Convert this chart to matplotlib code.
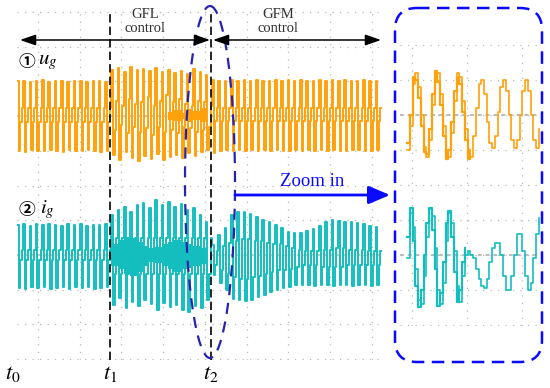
import numpy as np
import matplotlib.pyplot as plt
from matplotlib.patches import Ellipse, FancyBboxPatch

plt.rcParams['mathtext.fontset'] = 'stix'

# ---- main scope screen: per-cycle levels (divisions) ----
# u_g (channel 1, baseline +2 div): before t1 | t1..t2 | after t2
ug_top = ([3.0, 3.02, 2.98, 3.0, 3.03, 2.99, 3.0, 3.01, 2.98, 3.02, 3.0, 2.99, 3.01, 3.0, 2.98]
          + [3.33, 3.39, 3.27, 3.41, 3.33, 3.36, 3.30, 3.39, 3.27, 3.33, 3.24, 3.30, 3.21, 3.36, 3.27, 3.18]
          + [3.05, 3.0, 3.02, 3.04, 3.0, 3.03, 3.01, 3.04, 3.0, 3.02, 3.04, 3.0, 3.03, 3.01,
             3.04, 3.0, 3.02, 3.04, 3.01, 3.03, 3.0, 3.04, 3.02, 3.0, 3.03, 3.01, 3.02])
ug_bot = ([1.0, 0.98, 1.02, 1.0, 0.99, 1.01, 1.0, 0.98, 1.02, 1.0, 0.99, 1.01, 1.0, 0.98, 1.0]
          + [0.88, 0.73, 0.97, 0.79, 0.71, 0.85, 0.76, 0.91, 0.73, 0.82, 0.88, 0.79, 0.94, 0.85, 0.97, 1.02]
          + [0.95, 1.0, 1.02, 0.99, 1.01, 1.0, 1.02, 0.99, 1.01, 1.0, 1.02, 1.0, 0.99, 1.01,
             1.0, 1.02, 0.99, 1.01, 1.0, 1.02, 0.99, 1.0, 1.01, 1.02, 1.0, 0.99, 1.01])
ug_mid_hi = ([2.22] * 15
             + [2.45, 2.3, 2.5, 2.35, 2.4, 2.55, 2.3, 2.45, 2.6, 2.4, 2.5, 2.35, 2.3, 2.45, 2.4, 2.3]
             + [2.22] * 27)
ug_mid_lo = ([1.83] * 15
             + [1.6, 1.75, 1.5, 1.7, 1.55, 1.65, 1.45, 1.7, 1.55, 1.6, 1.5, 1.7, 1.65, 1.55, 1.6, 1.7]
             + [1.85] * 27)
# messy band of u_g just before t2
ug_band_hi = [np.nan] * 9 + [2.12, 2.18, 2.1, 2.2, 2.15, 2.22, 2.14]
ug_band_lo = [np.nan] * 9 + [1.9, 1.86, 1.92, 1.84, 1.88, 1.82, 1.9]

# i_g (channel 2, baseline -2 div)
ig_top = ([-1.14, -1.10, -1.17, -1.12, -1.15, -1.10, -1.14, -1.18, -1.12, -1.14, -1.10, -1.16, -1.13, -1.15, -1.11]
          + [-0.85, -0.71, -0.62, -0.76, -0.56, -0.50, -0.65, -0.42, -0.56, -0.48, -0.62, -0.53, -0.71, -0.65, -0.85, -1.05]
          + [-1.71, -1.43, -1.22, -0.85, -0.76, -0.76, -0.82, -0.91, -0.99, -1.05, -1.14, -1.22, -1.34, -1.37,
             -1.37, -1.31, -1.25, -1.17, -1.05, -0.99, -1.02, -1.05, -1.05, -1.08, -1.11, -1.17, -1.20])
ig_bot = ([-2.95, -2.98, -2.93, -2.96, -2.92, -2.97, -2.95, -2.93, -2.98, -2.94, -2.96, -2.92, -2.97, -2.95, -2.93]
          + [-3.44, -3.24, -3.53, -3.36, -3.47, -3.30, -3.41, -3.59, -3.39, -3.50, -3.44, -3.59, -3.65, -3.47, -3.53, -3.30]
          + [-2.58, -2.81, -3.01, -3.27, -3.30, -3.33, -3.30, -3.21, -3.16, -3.07, -3.01, -2.95, -2.93, -2.87,
             -2.87, -2.87, -2.90, -2.87, -2.87, -2.90, -2.87, -2.87, -2.90, -2.87, -2.87, -2.90, -2.87])
ig_mid_hi = ([-1.86] * 15
             + [-1.5] * 16
             + [-1.9, -1.75, -1.65, -1.6, -1.55, -1.55, -1.6, -1.6, -1.65, -1.7, -1.7, -1.75, -1.8, -1.85,
                -1.9, -1.9, -1.9, -1.85, -1.85, -1.8, -1.8, -1.85, -1.85, -1.85, -1.9, -1.9, -1.9])
ig_mid_lo = ([-2.15] * 15
             + [-2.55] * 16
             + [-2.3, -2.45, -2.55, -2.65, -2.7, -2.7, -2.65, -2.6, -2.55, -2.5, -2.45, -2.45, -2.4, -2.35,
                -2.3, -2.3, -2.3, -2.35, -2.35, -2.35, -2.35, -2.3, -2.3, -2.3, -2.3, -2.3, -2.3])
ig_band_hi = [-1.68, -1.58, -1.48, -1.52, -1.62, -1.74, -1.8, -1.76, -1.68, -1.62, -1.56, -1.62, -1.68, -1.74, -1.8, -1.86]
ig_band_lo = [-2.32, -2.42, -2.54, -2.6, -2.48, -2.32, -2.2, -2.24, -2.32, -2.42, -2.48, -2.42, -2.38, -2.32, -2.26, -2.16]

t_events = [1.725, 4.14]      # t1, t2 in divisions
x_start, x_end = -0.503, 8.24

# ---- zoomed window: samples every 2.5 ms starting at -4.5 ms ----
ug_zoom = [1.0, 1.7, 2.9, 3.2, 2.8, 2.0, 1.1, 0.8, 1.3, 2.3, 3.1, 3.2, 2.6, 1.7, 0.9, 0.8,
           1.5, 2.4, 3.2, 3.1, 2.4, 1.6, 0.9, 0.8, 1.4, 2.2, 2.9, 3.0, 2.6, 1.8, 1.2, 1.05,
           1.4, 2.1, 2.8, 3.0, 2.7, 2.0, 1.3, 1.05, 1.3, 2.0, 2.7, 3.0, 2.7, 2.0, 1.3, 1.05, 1.6]
ug_zoom_alt = [1.2, 2.0, 3.1, 3.0, 2.5, 1.7, 0.95, 0.9, 1.6, 2.6, 3.25, 2.95, 2.3, 1.4, 0.75, 1.0,
               1.8, 2.7, 3.05, 2.9, 2.1, 1.3, 0.75, 1.0]
ig_zoom = [-2.1, -0.8, -1.2, -2.4, -3.3, -3.4, -2.6, -1.5, -0.7, -0.9, -1.8, -3.0, -3.4, -2.8, -1.6, -0.8,
           -1.1, -1.9, -2.9, -3.35, -2.6, -2.0, -1.9, -2.0, -2.1, -2.4, -2.7, -2.9, -2.95, -2.7, -2.2, -1.8,
           -1.65, -1.65, -2.0, -2.6, -3.0, -3.0, -2.6, -2.0, -1.4, -1.4, -1.9, -2.6, -3.0, -2.8, -2.1, -1.4, -0.95]
ig_zoom_alt = [-1.5, -0.65, -1.6, -2.9, -3.5, -3.0, -2.0, -1.1, -0.65, -1.3, -2.4, -3.45, -3.1, -2.2, -1.1, -0.75,
               -1.5, -2.5, -3.35, -3.0, -2.2, -1.8]
zoom_t0, zoom_dt = -4.5, 2.5

orange = '#FFA10A'
cyan = '#14BEBE'
grid_kw = dict(color='#b8b8b8', linestyle=(0, (1, 5)), linewidth=0.9)


def cycle_trace(top, bot, mid_lo, mid_hi):
    period = (x_end - x_start) / len(top)
    xs, ys = [], []
    for i in range(len(top)):
        for k, v in enumerate([top[i], bot[i], mid_lo[i], mid_hi[i]]):
            xs.append(x_start + i * period + k * period / 4)
            ys.append(v)
    xs.append(x_end)
    ys.append(mid_hi[-1])
    return xs, ys, period


def scope_axes(ax, xt, yt):
    ax.set_xticks(xt)
    ax.set_yticks(yt)
    ax.tick_params(length=0, labelbottom=False, labelleft=False)
    for s in ax.spines.values():
        s.set_visible(False)
    ax.grid(True, **grid_kw)
    ax.set_axisbelow(True)
    ax.patch.set_alpha(0)


fig = plt.figure(figsize=(5.5, 3.88), dpi=100)

# main screen
ax = fig.add_axes([17 / 550, 1 - 360 / 388, 365 / 550, 349 / 388])
ax.set_xlim(x_start, x_end)
ax.set_ylim(-5.03, 5.03)
scope_axes(ax, range(0, 9), range(-5, 6))
for base in (2, -2):
    ax.axhline(base, color='#bcbcbc', linestyle=(0, (2, 2)), lw=1.2, zorder=1)

for top, bot, lo, hi, col in [(ug_top, ug_bot, ug_mid_lo, ug_mid_hi, orange),
                              (ig_top, ig_bot, ig_mid_lo, ig_mid_hi, cyan)]:
    xs, ys, period = cycle_trace(top, bot, lo, hi)
    ax.step(xs, ys, where='post', color=col, lw=1.4, zorder=2)

i1 = 15
xb = [x_start + (i1 + i) * period for i in range(16)]
ax.fill_between(xb, ig_band_lo, ig_band_hi, step='post', color=cyan, lw=0, zorder=2)
ax.fill_between(xb, ug_band_lo, ug_band_hi, step='post', color=orange, lw=0, zorder=2)

for t in t_events:
    ax.axvline(t, color='black', linestyle=(0, (5, 2.5)), lw=1.2, zorder=3)

# zoomed screen
az = fig.add_axes([400 / 550, 1 - 326 / 388, 140 / 550, 282 / 388])
az.set_xlim(-11, 116.5)
az.set_ylim(-4.03, 4.03)
scope_axes(az, [0, 50, 100], range(-4, 5))
for base in (2, -2):
    az.axhline(base, color='#bcbcbc', linestyle=(0, (2, 2)), lw=1.4, zorder=1)
tz = [zoom_t0 + i * zoom_dt for i in range(len(ug_zoom))]
az.step(tz, ug_zoom, where='post', color=orange, lw=1.2, zorder=2)
az.step(tz[:len(ug_zoom_alt)], ug_zoom_alt, where='post', color=orange, lw=1.6, zorder=2)
tz = [zoom_t0 + i * zoom_dt for i in range(len(ig_zoom))]
az.step(tz, ig_zoom, where='post', color=cyan, lw=1.2, zorder=2)
az.step(tz[:len(ig_zoom_alt)], ig_zoom_alt, where='post', color=cyan, lw=1.6, zorder=2)

# annotation layer in pixel coordinates
ov = fig.add_axes([0, 0, 1, 1], zorder=5)
ov.set_xlim(0, 550)
ov.set_ylim(388, 0)
ov.axis('off')
ov.patch.set_alpha(0)

arrow_k = dict(arrowstyle='<|-|>,head_length=0.95,head_width=0.33', color='black',
               lw=1.1, mutation_scale=10, shrinkA=0, shrinkB=0)
ov.annotate('', xy=(20, 40), xytext=(210, 40), arrowprops=arrow_k)
ov.annotate('', xy=(213, 40), xytext=(381, 40), arrowprops=arrow_k)

serif = 'Liberation Serif'
for x, words in [(145, ('GFL', 'control')), (278, ('GFM', 'control'))]:
    ov.text(x, 15, words[0], ha='center', va='center', family=serif, fontsize=10.5, color='#303030')
    ov.text(x, 29, words[1], ha='center', va='center', family=serif, fontsize=10.5, color='#303030')

ov.text(27, 62, '①', ha='center', va='center', fontsize=12, fontweight='bold',
        family=['Noto Sans CJK JP', 'DejaVu Sans'])
ov.text(38, 62, r'$u_g$', ha='left', va='center', fontsize=15)
ov.text(27, 210, '②', ha='center', va='center', fontsize=12, fontweight='bold',
        family=['Noto Sans CJK JP', 'DejaVu Sans'])
ov.text(40, 210, r'$i_g$', ha='left', va='center', fontsize=15)

for x, lab in [(13, r'$t_0$'), (110, r'$t_1$'), (211, r'$t_2$')]:
    ov.text(x, 374, lab, ha='center', va='center', fontsize=16)

ov.add_patch(Ellipse((210, 182), 50, 352, fill=False, edgecolor='#2424b0', lw=1.6,
                     linestyle=(0, (5, 3.5))))
ov.add_patch(FancyBboxPatch((395, 8), 147, 354, boxstyle='round,pad=0,rounding_size=22',
                            fill=False, edgecolor='#0a0aff', lw=1.8, linestyle=(0, (5, 3))))

ov.annotate('', xy=(390, 195), xytext=(235, 195),
            arrowprops=dict(arrowstyle='-|>,head_length=1.3,head_width=0.55', color='#0a0aff',
                            lw=2.0, mutation_scale=10, shrinkA=0, shrinkB=0))
ov.text(312, 181, 'Zoom in', ha='center', va='center', family=serif, fontsize=13.5, color='#0a0aff')

fig.savefig('out.png', dpi=100)
